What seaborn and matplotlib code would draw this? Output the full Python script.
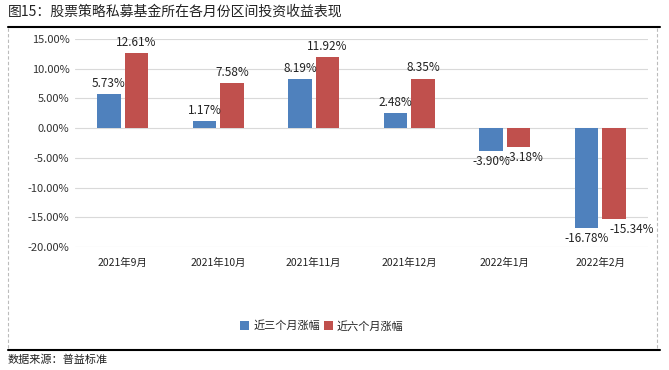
import pandas as pd
import seaborn as sns
import matplotlib.pyplot as plt
from matplotlib.lines import Line2D

months = ["2021年9月", "2021年10月", "2021年11月", "2021年12月", "2022年1月", "2022年2月"]
three_month = [5.73, 1.17, 8.19, 2.48, -3.90, -16.78]
six_month = [12.61, 7.58, 11.92, 8.35, -3.18, -15.34]
series_names = ["近三个月涨幅", "近六个月涨幅"]
colors = ["#4F81BD", "#C0504D"]

df = pd.DataFrame({
    "month": months * 2,
    "value": three_month + six_month,
    "series": [series_names[0]] * len(months) + [series_names[1]] * len(months),
})

sns.set_style("white")
plt.rcParams["font.family"] = ["Noto Sans CJK SC", "DejaVu Sans"]
plt.rcParams["axes.unicode_minus"] = False

fig = plt.figure(figsize=(6.69, 3.70), dpi=100)
ax = fig.add_axes([75 / 669, 1 - 247 / 370, 573 / 669, 208 / 370])

sns.barplot(data=df, x="month", y="value", hue="series", palette=colors,
            saturation=1, width=0.58, gap=0.16, linewidth=0, ax=ax, legend=True)

ax.set_ylim(-20, 15)
ax.set_yticks(range(-20, 16, 5))
ax.set_yticklabels([f"{v:.2f}%" for v in range(-20, 16, 5)], fontsize=8, color="#333333")
ax.grid(axis="y", color="#D9D9D9", linewidth=0.8)
ax.set_axisbelow(True)
for s in ax.spines.values():
    s.set_visible(False)
ax.tick_params(axis="both", length=0, pad=4)
ax.tick_params(axis="x", labelsize=7.5, labelcolor="#222222", pad=8)
ax.set_xlabel("")
ax.set_ylabel("")

for i, cont in enumerate(ax.containers):
    anns = ax.bar_label(cont, labels=[f"{v:.2f}%" for v in cont.datavalues],
                        fontsize=8.5, color="#222222", padding=3)
    # the red negative labels sit a little to the right, as in the source chart
    if i == 1:
        for ann, v in zip(anns, cont.datavalues):
            if v < -10:
                ann.xyann = (13, ann.xyann[1])
            elif v < 0:
                ann.xyann = (4, ann.xyann[1])

handles, labels = ax.get_legend_handles_labels()
ax.legend(handles, labels, loc="center", bbox_to_anchor=(322 / 669, 1 - 326 / 370),
          bbox_transform=fig.transFigure, ncol=2, frameon=False, fontsize=8,
          handlelength=0.8, handleheight=0.8, handletextpad=0.4, columnspacing=0.3)

fig.text(8 / 669, 1 - 12 / 370, "图15：股票策略私募基金所在各月份区间投资收益表现",
         fontsize=10, color="#222222", va="center", ha="left")
fig.text(8 / 669, 1 - 360 / 370, "数据来源：普益标准", fontsize=8,
         color="#222222", va="center", ha="left")

fig.add_artist(Line2D([8 / 669, 660 / 669], [1 - 27 / 370] * 2, color="black", linewidth=1.5))
fig.add_artist(Line2D([8 / 669, 660 / 669], [1 - 350 / 370] * 2, color="black", linewidth=1.5))
for xv in [8, 657]:
    fig.add_artist(Line2D([xv / 669] * 2, [1 - 28 / 370, 1 - 349 / 370],
                          color="#BBBBBB", linewidth=0.8, linestyle=(0, (3, 2))))

fig.savefig("out.png", dpi=100)
